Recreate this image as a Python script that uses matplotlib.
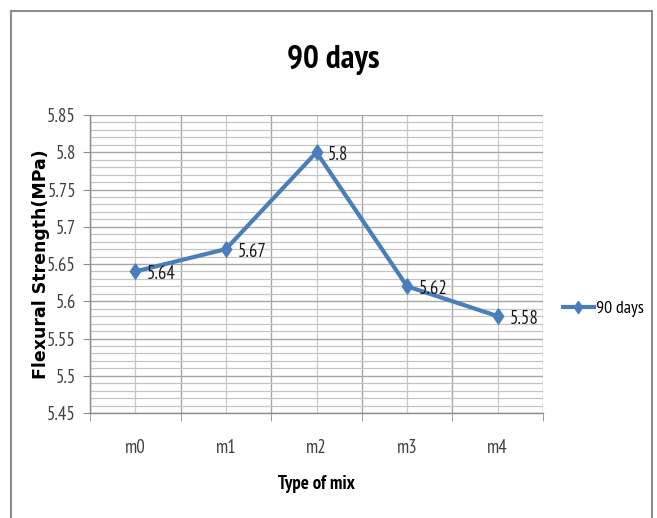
import matplotlib
matplotlib.use("Agg")
import matplotlib.pyplot as plt
from matplotlib.patches import Rectangle
from matplotlib.ticker import MultipleLocator, FixedLocator

mixes = ["m0", "m1", "m2", "m3", "m4"]
strength_90 = [5.64, 5.67, 5.80, 5.62, 5.58]
series_name = "90 days"
y_ticks = [5.45, 5.5, 5.55, 5.6, 5.65, 5.7, 5.75, 5.8, 5.85]

plt.rcParams["font.family"] = ["PT Sans Narrow", "DejaVu Sans"]

blue = "#4A7EBB"
text_grey = "#404040"
# tall, narrow diamond marker
tall_diamond = [(0, 1), (0.68, 0), (0, -1), (-0.68, 0), (0, 1)]

fig = plt.figure(figsize=(6.57, 5.18), dpi=100)
fig.patch.set_facecolor("white")

# chart frame
fig.patches.append(Rectangle((10.5 / 657, -0.05), 641.5 / 657, (518 - 10.5) / 518 + 0.05,
                             transform=fig.transFigure, fill=False,
                             edgecolor="#8C8C8C", linewidth=1.5))

ax = fig.add_axes([90 / 657, 105 / 518, 453 / 657, 298 / 518])
x = list(range(len(mixes)))
ax.plot(x, strength_90, color=blue, linewidth=3.0, marker=tall_diamond, markersize=11,
        markerfacecolor=blue, markeredgecolor=blue, label=series_name)

for xi, v in zip(x, strength_90):
    ax.annotate(f"{v:g}", (xi, v), xytext=(8.5, -2), textcoords="offset points",
                ha="left", va="center", fontsize=13.5, color="#1a1a1a")

ax.set_xlim(-0.5, len(mixes) - 0.5)
ax.set_ylim(y_ticks[0], y_ticks[-1])
ax.set_xticks(x)
ax.set_xticklabels(mixes, fontsize=13.5, color=text_grey)
ax.xaxis.set_minor_locator(FixedLocator([i - 0.5 for i in range(len(mixes) + 1)]))
ax.tick_params(axis="x", which="major", length=0, pad=19)
ax.tick_params(axis="x", which="minor", length=6, color="#8C8C8C")

ax.yaxis.set_minor_locator(MultipleLocator(0.01))
ax.set_yticks(y_ticks)
ax.set_yticklabels([f"{t:g}" for t in y_ticks], fontsize=13.5, color=text_grey)
ax.tick_params(axis="y", which="major", length=5, color="#8C8C8C", pad=5)
ax.tick_params(axis="y", which="minor", length=0)

ax.grid(True, which="major", axis="y", color="#A6A6A6", linewidth=1.0)
ax.grid(True, which="minor", axis="y", color="#C4C4C4", linewidth=0.9)
ax.grid(True, which="major", axis="x", color="#C8C8C8", linewidth=0.9)
ax.grid(True, which="minor", axis="x", color="#A6A6A6", linewidth=1.0)
ax.set_axisbelow(True)

for side in ("top", "right"):
    ax.spines[side].set_visible(False)
for side in ("left", "bottom"):
    ax.spines[side].set_color("#8C8C8C")
    ax.spines[side].set_linewidth(1.0)

fig.text(333 / 657, 1 - 60 / 518, "90 days", ha="center", va="center",
         fontsize=24, fontweight="bold", color="black")
fig.text(316 / 657, 1 - 484 / 518, "Type of mix", ha="center", va="center",
         fontsize=13.5, fontweight="bold", color="black")
fig.text(41 / 657, 1 - 264 / 518, "Flexural Strength(MPa)", ha="center", va="center",
         rotation=90, fontsize=12.5, fontweight="bold", color="black",
         family="DejaVu Sans")

leg = ax.legend(loc="center left", bbox_to_anchor=(563 / 657, 1 - 309 / 518),
                bbox_transform=fig.transFigure, frameon=False, fontsize=13,
                handlelength=1.7, handletextpad=0.1, borderpad=0, borderaxespad=0,
                markerscale=0.8)

fig.savefig("out.png", dpi=100, facecolor="white")
